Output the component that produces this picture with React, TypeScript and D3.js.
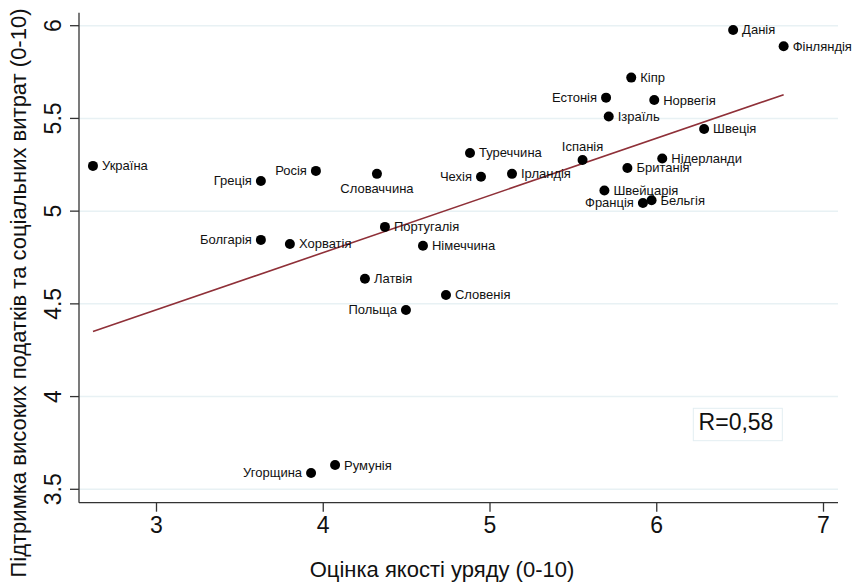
import React from "react";
import * as d3 from "d3";

const countries = ["Україна","Греція","Росія","Словаччина","Болгарія","Хорватія","Португалія","Німеччина","Латвія","Словенія","Польща","Угорщина","Румунія","Туреччина","Чехія","Ірландія","Іспанія","Естонія","Кіпр","Ізраїль","Норвегія","Данія","Фінляндія","Швеція","Нідерланди","Британія","Швейцарія","Франція","Бельгія"];
const govQuality = [2.619,3.626,3.956,4.322,3.626,3.80,4.370,4.598,4.250,4.736,4.496,3.927,4.071,4.880,4.946,5.132,5.555,5.696,5.847,5.712,5.985,6.458,6.761,6.284,6.033,5.824,5.686,5.917,5.969];
const taxSupport = [5.244,5.163,5.217,5.201,4.845,4.823,4.915,4.813,4.635,4.548,4.467,3.588,3.631,5.314,5.185,5.201,5.276,5.612,5.720,5.510,5.599,5.977,5.889,5.443,5.284,5.233,5.111,5.044,5.059];
const labelSide = ["r","l","l","b","l","r","r","r","r","r","l","l","r","r","l","r","t","l","r","r","r","r","r","r","r","r","r","l","r"];
const xTicks = [3,4,5,6,7];
const yTicks = [3.5,4,4.5,5,5.5,6];
const fitIntercept = 3.543;
const fitSlope = 0.3084;
const rLabel = "R=0,58";
const xTitle = "Оцінка якості уряду (0-10)";
const yTitle = "Підтримка високих податків та соціальних витрат (0-10)";

const W = 855, H = 584;
const plot = { left: 79, right: 838, top: 12.7, bottom: 502.7 };
const font = "'Liberation Sans', Arial, sans-serif";

export default function App() {
  const x = d3.scaleLinear().domain([3, 7]).range([156.5, 823.5]);
  const y = d3.scaleLinear().domain([3.5, 6]).range([489.3, 25.7]);
  const ext = d3.extent(govQuality) as [number, number];
  const line = d3.line<number>().x(d => x(d)).y(d => y(fitIntercept + fitSlope * d));
  const axisColor = "#333";
  return (
    <svg width={W} height={H} style={{ position: "absolute", left: 0, top: 0, background: "#fff" }} fontFamily={font}>
      <rect x={0} y={0} width={W} height={H} fill="#fff" />
      {yTicks.map(t => (
        <line key={"g" + t} x1={plot.left} x2={plot.right} y1={y(t)} y2={y(t)} stroke="#e8f1f4" strokeWidth={1.5} />
      ))}
      <line x1={plot.left} x2={plot.left} y1={plot.top} y2={plot.bottom} stroke={axisColor} strokeWidth={1.3} />
      <line x1={plot.left} x2={plot.right} y1={plot.bottom} y2={plot.bottom} stroke={axisColor} strokeWidth={1.3} />
      {yTicks.map(t => (
        <g key={"yt" + t}>
          <line x1={plot.left - 9} x2={plot.left} y1={y(t)} y2={y(t)} stroke={axisColor} strokeWidth={1.3} />
          <text transform={`translate(60.5,${y(t)}) rotate(-90)`} textAnchor="middle" fontSize={23} fill="#111">{String(t)}</text>
        </g>
      ))}
      {xTicks.map(t => (
        <g key={"xt" + t}>
          <line x1={x(t)} x2={x(t)} y1={plot.bottom} y2={plot.bottom + 9} stroke={axisColor} strokeWidth={1.3} />
          <text x={x(t)} y={533} textAnchor="middle" fontSize={23} fill="#111">{String(t)}</text>
        </g>
      ))}
      <path d={line(ext) || ""} stroke="#8f3038" strokeWidth={1.6} fill="none" />
      {countries.map((c, i) => {
        const px = x(govQuality[i]), py = y(taxSupport[i]);
        const s = labelSide[i];
        let tx = px + 9, ty = py + 4.5, anchor = "start";
        if (s === "l") { tx = px - 9; anchor = "end"; }
        if (s === "b") { tx = px; ty = py + 19; anchor = "middle"; }
        if (s === "t") { tx = px; ty = py - 9; anchor = "middle"; }
        return (
          <g key={c}>
            <circle cx={px} cy={py} r={5} fill="#000" />
            <text x={tx} y={ty} textAnchor={anchor} fontSize={13} fill="#111">{c}</text>
          </g>
        );
      })}
      <rect x={693.3} y={408.3} width={89} height={32.4} fill="#fff" stroke="#e3eef2" strokeWidth={1} />
      <text x={736} y={430} textAnchor="middle" fontSize={23} fill="#111">{rLabel}</text>
      <text x={442} y={577} textAnchor="middle" fontSize={22} fill="#111">{xTitle}</text>
      <text transform={`translate(26,293) rotate(-90)`} textAnchor="middle" fontSize={22} fill="#111">{yTitle}</text>
    </svg>
  );
}
